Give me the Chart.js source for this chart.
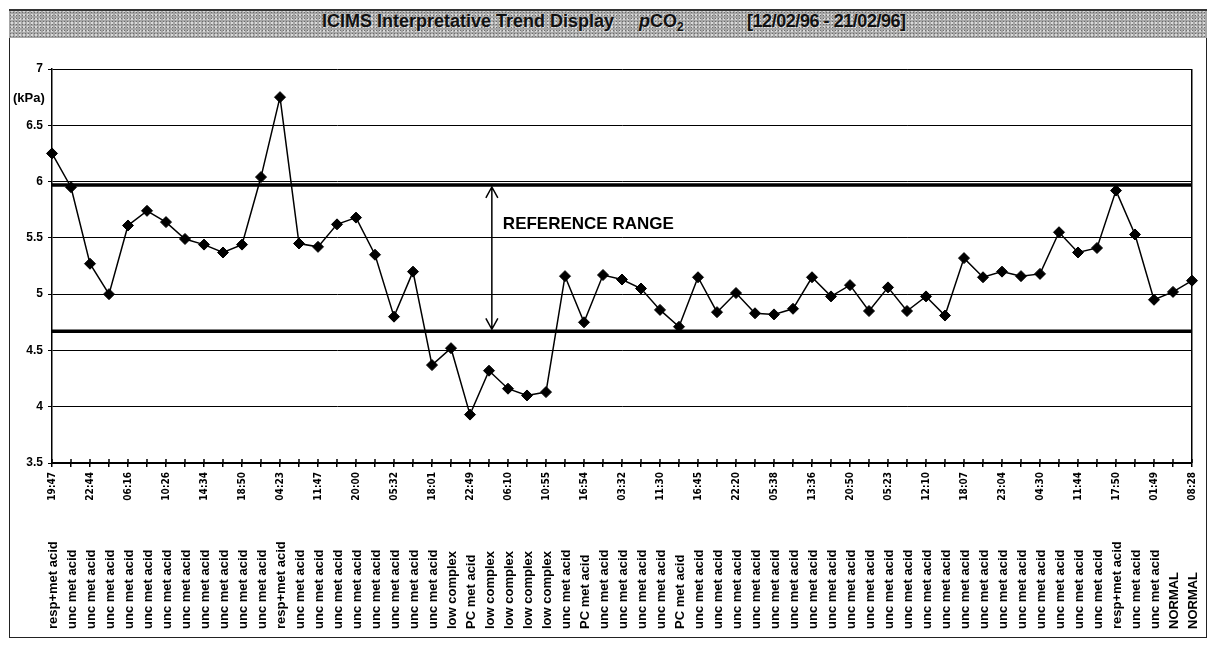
<!DOCTYPE html>
<html>
<head>
<meta charset="utf-8">
<title>ICIMS Interpretative Trend Display - pCO2</title>
<script src="https://cdn.jsdelivr.net/npm/chart.js@4.4.1/dist/chart.umd.min.js"></script>
<style>
  html, body { margin:0; padding:0; background:#fff; }
  #wrap { position:relative; width:1210px; height:645px; overflow:hidden; }
  #frame { position:absolute; left:9px; top:9px; width:1198px; height:629px; border:1px solid #222; box-sizing:border-box; }
  #titleBar {
    position:absolute; left:9px; top:9px; width:1198px; height:29px; box-sizing:border-box;
    border-top:2px solid #333;
    background-color:#a6a6a6;
    background-image:
      radial-gradient(circle, #6c6c6c 0.7px, transparent 1px),
      radial-gradient(circle, #dadada 0.7px, transparent 1px);
    background-size:3px 3px, 4px 4px;
    background-position:0 0, 1px 2px;
  }
  .tt { position:absolute; top:0; line-height:27px; font:bold 18px "Liberation Sans", Arial, sans-serif; color:#111; white-space:nowrap; text-shadow:1px 1px 0 rgba(255,255,255,.45); }
  .tt sub { font-size:12px; vertical-align:-4px; line-height:0; }
  #kpa { position:absolute; left:13px; top:90px; font:bold 13px "Liberation Sans", Arial, sans-serif; color:#000; }
  canvas { position:absolute; left:0; top:0; }
</style>
</head>
<body>
<div id="wrap">
  <div id="frame"></div>
  <div id="titleBar">
    <span class="tt" style="left:313px">ICIMS Interpretative Trend Display</span>
    <span class="tt" style="left:630px"><i>p</i>CO<sub>2</sub></span>
    <span class="tt" style="left:738px; letter-spacing:-0.45px">[12/02/96 - 21/02/96]</span>
  </div>
  <canvas id="trend" width="1210" height="645"></canvas>
  <div id="kpa">(kPa)</div>
</div>
<script>
// --- DATA ---
// time of each sample (only every other one is printed on the axis)
const TIME_LABELS = [
  '19:47','', '22:44','', '06:16','', '10:26','', '14:34','', '18:50','',
  '04:23','', '11:47','', '20:00','', '05:32','', '18:01','', '22:49','',
  '06:10','', '10:55','', '16:54','', '03:32','', '11:30','', '16:45','',
  '22:20','', '05:38','', '13:36','', '20:50','', '05:23','', '12:10','',
  '18:07','', '23:04','', '04:30','', '11:44','', '17:50','', '01:49','', '08:28'
];

// interpretation printed under each sample
const DIAGNOSES = [
  'resp+met acid',
  'unc met acid','unc met acid','unc met acid','unc met acid','unc met acid','unc met acid',
  'unc met acid','unc met acid','unc met acid','unc met acid','unc met acid',
  'resp+met acid',
  'unc met acid','unc met acid','unc met acid','unc met acid','unc met acid','unc met acid',
  'unc met acid','unc met acid',
  'low complex','PC met acid','low complex','low complex','low complex','low complex',
  'unc met acid','PC met acid',
  'unc met acid','unc met acid','unc met acid','unc met acid',
  'PC met acid',
  'unc met acid','unc met acid','unc met acid','unc met acid','unc met acid','unc met acid',
  'unc met acid','unc met acid','unc met acid','unc met acid','unc met acid','unc met acid',
  'unc met acid','unc met acid','unc met acid','unc met acid','unc met acid','unc met acid',
  'unc met acid','unc met acid','unc met acid','unc met acid',
  'resp+met acid','unc met acid','unc met acid','NORMAL','NORMAL'
];

// pCO2 (kPa)
const PCO2_VALUES = [
  6.25, 5.95, 5.27, 5.00, 5.61, 5.74, 5.64, 5.49, 5.44, 5.37,
  5.44, 6.04, 6.75, 5.45, 5.42, 5.62, 5.68, 5.35, 4.80, 5.20,
  4.37, 4.52, 3.93, 4.32, 4.16, 4.10, 4.13, 5.16, 4.75, 5.17,
  5.13, 5.05, 4.86, 4.71, 5.15, 4.84, 5.01, 4.83, 4.82, 4.87,
  5.15, 4.98, 5.08, 4.85, 5.06, 4.85, 4.98, 4.81, 5.32, 5.15,
  5.20, 5.16, 5.18, 5.55, 5.37, 5.41, 5.92, 5.53, 4.95, 5.02,
  5.12
];

const Y_TICKS = [3.5, 4, 4.5, 5, 5.5, 6, 6.5, 7];

// reference range limits
const REF_HIGH = 5.97;
const REF_LOW = 4.67;
const REF_LABEL = 'REFERENCE RANGE';
const ARROW_AT = 23.15;      // category position of the double arrow
const REF_LABEL_AT = 5.62;   // y value of the label centre

const FONT = '"Liberation Sans", Arial, sans-serif';
const NARROW_FONT = '"Liberation Sans Narrow", "Arial Narrow", "DejaVu Sans Condensed", "Liberation Sans", sans-serif';

// --- OVERLAY PLUGIN: reference lines, arrow, diagnosis row ---
const trendOverlay = {
  id: 'trendOverlay',
  beforeDatasetsDraw(chart){
    const { ctx, chartArea: a, scales: { x, y } } = chart;
    ctx.save();
    ctx.strokeStyle = '#000';
    ctx.lineWidth = 3.5;
    [REF_HIGH, REF_LOW].forEach(v => {
      const py = y.getPixelForValue(v);
      ctx.beginPath(); ctx.moveTo(a.left, py); ctx.lineTo(a.right, py); ctx.stroke();
    });

    const ax = x.getPixelForValue(ARROW_AT);
    const top = y.getPixelForValue(REF_HIGH) + 2;
    const bot = y.getPixelForValue(REF_LOW) - 2;
    ctx.lineWidth = 1.5;
    ctx.beginPath();
    ctx.moveTo(ax, top); ctx.lineTo(ax, bot);
    ctx.moveTo(ax - 6, top + 11); ctx.lineTo(ax, top); ctx.lineTo(ax + 6, top + 11);
    ctx.moveTo(ax - 6, bot - 11); ctx.lineTo(ax, bot); ctx.lineTo(ax + 6, bot - 11);
    ctx.stroke();

    ctx.fillStyle = '#000';
    ctx.font = 'bold 17px ' + FONT;
    ctx.textAlign = 'left';
    ctx.textBaseline = 'middle';
    ctx.fillText(REF_LABEL, ax + 11, y.getPixelForValue(REF_LABEL_AT));
    ctx.restore();
  },
  afterDraw(chart){
    const { ctx, scales: { x } } = chart;
    ctx.save();
    // upper half of the tick crosses
    ctx.strokeStyle = '#000';
    ctx.lineWidth = 1.5;
    DIAGNOSES.forEach((d, i) => {
      const px = x.getPixelForValue(i);
      ctx.beginPath(); ctx.moveTo(px, x.top - 4); ctx.lineTo(px, x.top); ctx.stroke();
    });
    // diagnosis labels, bottom aligned
    ctx.fillStyle = '#000';
    ctx.font = 'bold 13px ' + FONT;
    ctx.textAlign = 'left';
    ctx.textBaseline = 'middle';
    DIAGNOSES.forEach((d, i) => {
      ctx.save();
      ctx.translate(x.getPixelForValue(i) + 1, x.bottom - 16);
      ctx.rotate(-Math.PI / 2);
      ctx.fillText(d, 0, 0);
      ctx.restore();
    });
    ctx.restore();
  }
};

// --- CHART ---
const chart = new Chart(document.getElementById('trend'), {
  type: 'line',
  data: {
    labels: TIME_LABELS,
    datasets: [{
      label: 'pCO2',
      data: PCO2_VALUES,
      borderColor: '#000',
      borderWidth: 1.5,
      tension: 0,
      fill: false,
      pointStyle: 'rectRot',
      pointRadius: 5.5,
      pointBackgroundColor: '#000',
      pointBorderColor: '#000',
      pointBorderWidth: 1
    }]
  },
  options: {
    responsive: false,
    animation: false,
    devicePixelRatio: 1,
    layout: { padding: { top: 69, right: 18, bottom: 0, left: 0 } },
    plugins: { legend: { display: false }, tooltip: { enabled: false }, title: { display: false } },
    scales: {
      x: {
        type: 'category',
        offset: false,
        afterFit: s => { s.height = 182; },
        grid: {
          drawOnChartArea: true,
          color: c => c.index === TIME_LABELS.length - 1 ? '#000' : 'rgba(0,0,0,0)',
          lineWidth: 1.5,
          tickColor: '#000',
          tickWidth: 1.5,
          tickLength: 4
        },
        border: { color: '#000', width: 2 },
        ticks: {
          autoSkip: false, minRotation: 90, maxRotation: 90, padding: 5,
          color: '#000',
          font: { family: NARROW_FONT, size: 10, weight: 'bold' }
        }
      },
      y: {
        min: Y_TICKS[0],
        max: Y_TICKS[Y_TICKS.length - 1],
        afterFit: s => { s.width = 52; },
        afterBuildTicks: s => { s.ticks = Y_TICKS.map(v => ({ value: v })); },
        grid: { color: '#000', lineWidth: 1, tickLength: 4 },
        border: { color: '#000', width: 1.5 },
        ticks: {
          padding: 5, color: '#000',
          font: { family: FONT, size: 12, weight: 'bold' },
          callback: v => String(v)
        }
      }
    }
  },
  plugins: [trendOverlay]
});
</script>
</body>
</html>
